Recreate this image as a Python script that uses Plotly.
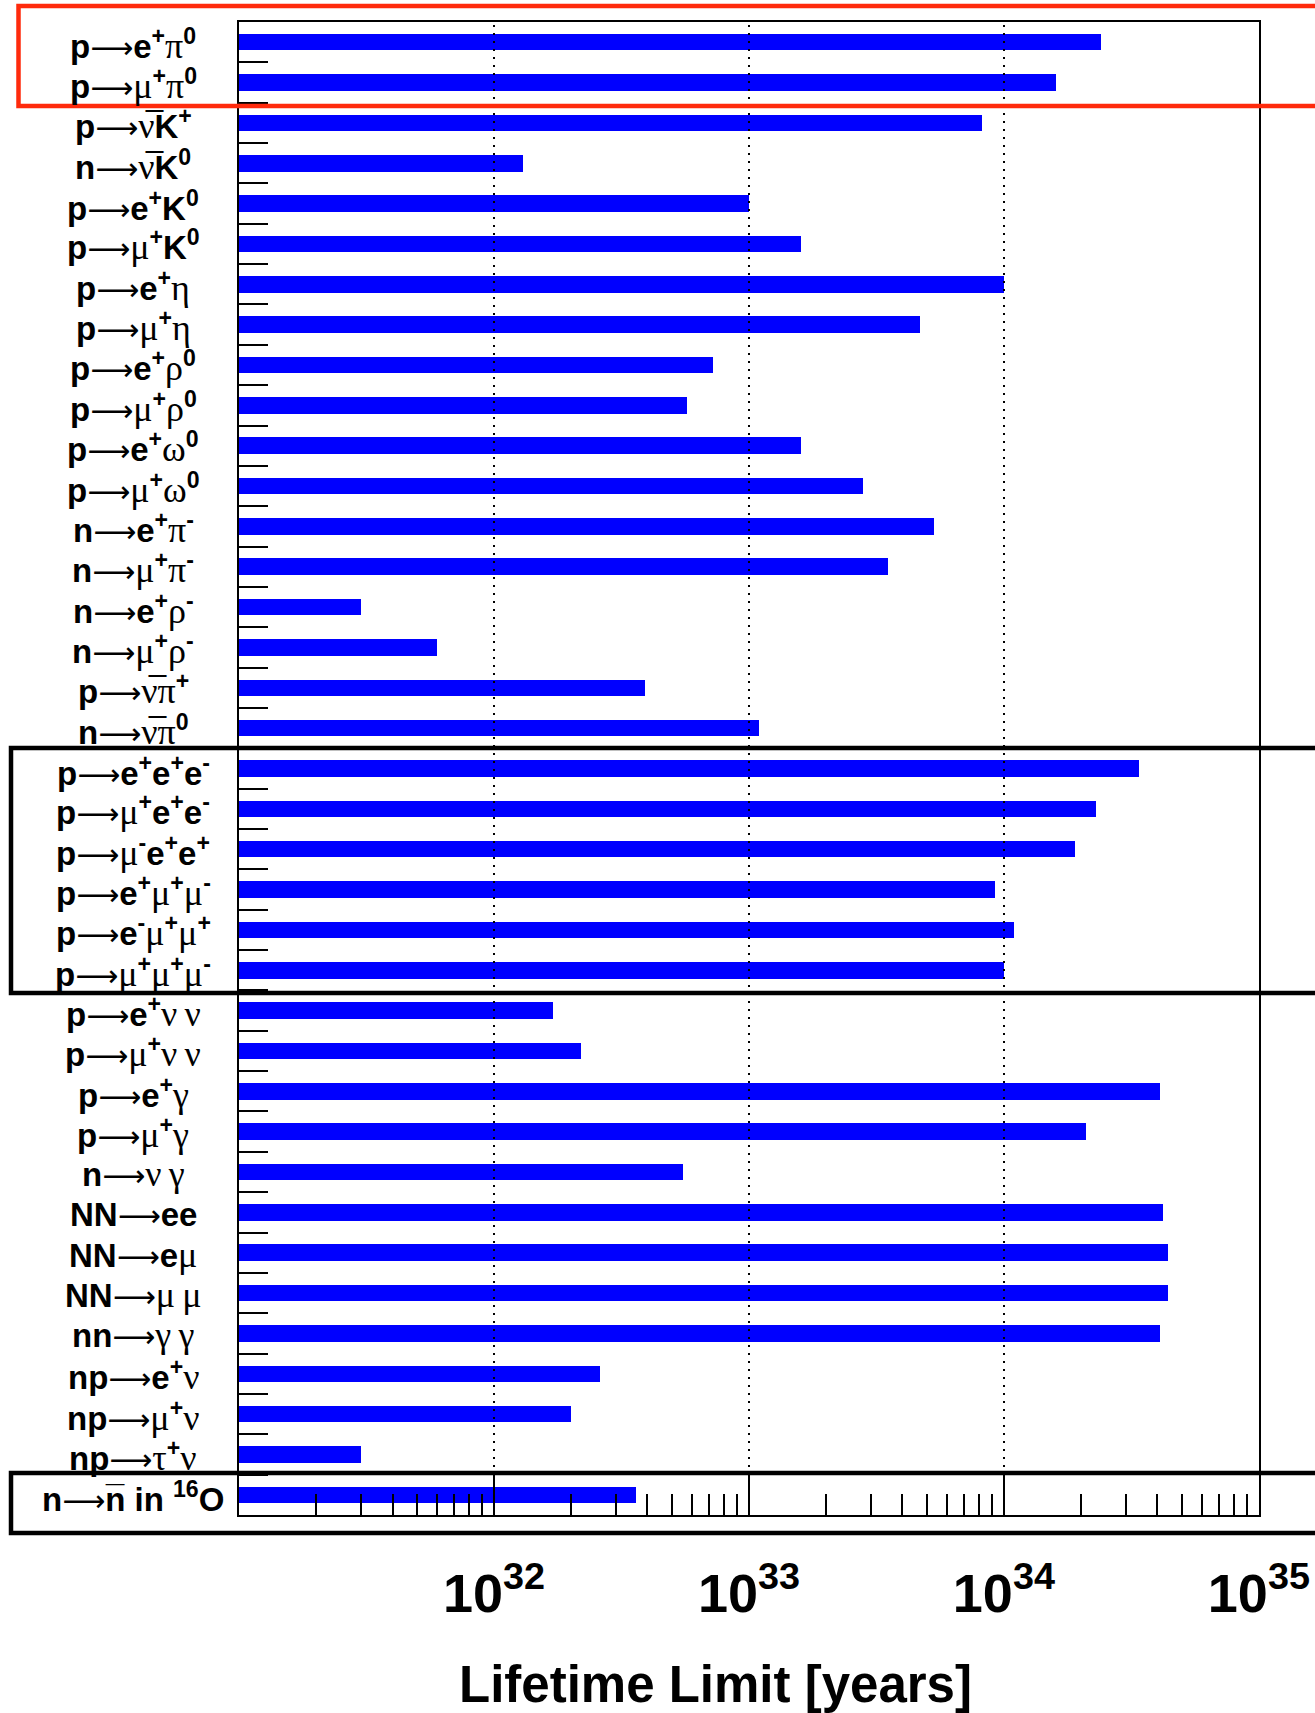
import math
import plotly.graph_objects as go

# ---------------- data ----------------
def b(s): return f"<b>{s}</b>"
def g(s): return f"<span style='font-family:Liberation Serif;font-size:36px'>{s}</span>"
def up(s): return f"<sup>{s}</sup>"
A = "<span style='font-family:DejaVu Sans;font-size:30px'>⟶</span>"
NUB = g("ν\u0305")

labels = [
    b("p")+A+b("e")+up(b("+"))+g("π")+up(b("0")),
    b("p")+A+g("μ")+up(b("+"))+g("π")+up(b("0")),
    b("p")+A+NUB+b("K")+up(b("+")),
    b("n")+A+NUB+b("K")+up(b("0")),
    b("p")+A+b("e")+up(b("+"))+b("K")+up(b("0")),
    b("p")+A+g("μ")+up(b("+"))+b("K")+up(b("0")),
    b("p")+A+b("e")+up(b("+"))+g("η"),
    b("p")+A+g("μ")+up(b("+"))+g("η"),
    b("p")+A+b("e")+up(b("+"))+g("ρ")+up(b("0")),
    b("p")+A+g("μ")+up(b("+"))+g("ρ")+up(b("0")),
    b("p")+A+b("e")+up(b("+"))+g("ω")+up(b("0")),
    b("p")+A+g("μ")+up(b("+"))+g("ω")+up(b("0")),
    b("n")+A+b("e")+up(b("+"))+g("π")+up(b("-")),
    b("n")+A+g("μ")+up(b("+"))+g("π")+up(b("-")),
    b("n")+A+b("e")+up(b("+"))+g("ρ")+up(b("-")),
    b("n")+A+g("μ")+up(b("+"))+g("ρ")+up(b("-")),
    b("p")+A+NUB+g("π")+up(b("+")),
    b("n")+A+NUB+g("π")+up(b("0")),
    b("p")+A+b("e")+up(b("+"))+b("e")+up(b("+"))+b("e")+up(b("-")),
    b("p")+A+g("μ")+up(b("+"))+b("e")+up(b("+"))+b("e")+up(b("-")),
    b("p")+A+g("μ")+up(b("-"))+b("e")+up(b("+"))+b("e")+up(b("+")),
    b("p")+A+b("e")+up(b("+"))+g("μ")+up(b("+"))+g("μ")+up(b("-")),
    b("p")+A+b("e")+up(b("-"))+g("μ")+up(b("+"))+g("μ")+up(b("+")),
    b("p")+A+g("μ")+up(b("+"))+g("μ")+up(b("+"))+g("μ")+up(b("-")),
    b("p")+A+b("e")+up(b("+"))+g("ν\u2009ν"),
    b("p")+A+g("μ")+up(b("+"))+g("ν\u2009ν"),
    b("p")+A+b("e")+up(b("+"))+g("γ"),
    b("p")+A+g("μ")+up(b("+"))+g("γ"),
    b("n")+A+g("ν\u2009γ"),
    b("NN")+A+b("ee"),
    b("NN")+A+b("e")+g("μ"),
    b("NN")+A+g("μ\u2009μ"),
    b("nn")+A+g("γ\u2009γ"),
    b("np")+A+b("e")+up(b("+"))+g("ν"),
    b("np")+A+g("μ")+up(b("+"))+g("ν"),
    b("np")+A+g("τ")+up(b("+"))+g("ν"),
    b("n")+A+b("n\u0305 in ")+up(b("16"))+b("O"),
]

lifetime_limits = [
    2.4e34, 1.6e34, 8.2e33, 1.3e32, 1.0e33, 1.6e33, 1.0e34, 4.7e33,
    7.2e32, 5.7e32, 1.6e33, 2.8e33, 5.3e33, 3.5e33, 3.0e31, 6.0e31,
    3.9e32, 1.1e33, 3.4e34, 2.3e34, 1.9e34, 9.2e33, 1.1e34, 1.0e34,
    1.7e32, 2.2e32, 4.1e34, 2.1e34, 5.5e32, 4.2e34, 4.4e34, 4.4e34,
    4.1e34, 2.6e32, 2.0e32, 3.0e31, 3.6e32,
]

x_tick_vals = [1e32, 1e33, 1e34, 1e35]
x_tick_text = ["10<sup>32</sup>", "10<sup>33</sup>", "10<sup>34</sup>", "10<sup>35</sup>"]
x_minor_vals = [float(m) * 10.0 ** e for e in range(31, 35) for m in range(2, 10)]
x_log_range = [31, 35]

rows = list(range(1, len(labels) + 1))

# ---------------- layout geometry ----------------
W, H = 1315, 1713
ML, MR, MT, MB = 239, 56, 22, 198
PW, PH = W - ML - MR, H - MT - MB

def px_x(px):
    return (px - ML) / PW

def px_y(py):
    return 1 - (py - MT) / PH

fig = go.Figure()
fig.add_trace(go.Bar(
    x=lifetime_limits, y=rows, orientation="h",
    width=0.41, marker=dict(color="#0000ff", line=dict(width=0)),
    hoverinfo="x",
))

# row labels (centered, ROOT style)
for r, lab in zip(rows, labels):
    fig.add_annotation(
        x=px_x(133), xref="paper", y=r, yref="y",
        text=lab, showarrow=False, xanchor="center", yanchor="middle",
        yshift=-2,
        font=dict(family="Liberation Sans, Arial, sans-serif", size=33, color="black"),
    )

# x title
fig.add_annotation(
    x=px_x(715), xref="paper", y=px_y(1684), yref="paper",
    text="Lifetime Limit [years]", showarrow=False,
    xanchor="center", yanchor="middle",
    font=dict(family="Liberation Sans, Arial", size=51, color="black", weight="bold"),
)

# dotted grid lines at decades (drawn above bars)
for v in x_tick_vals[:-1]:
    xp = (math.log10(v) - x_log_range[0]) / (x_log_range[1] - x_log_range[0])
    fig.add_shape(type="line", xref="paper", yref="paper", x0=xp, x1=xp, y0=0, y1=1,
                  line=dict(color="black", width=2, dash="2px,6px"), layer="above")

# highlight boxes
fig.add_shape(type="rect", xref="paper", yref="paper",
              x0=px_x(18.5), x1=px_x(1340), y0=px_y(106), y1=px_y(6),
              line=dict(color="#ff2a0c", width=4.5), layer="above")
fig.add_shape(type="rect", xref="paper", yref="paper",
              x0=px_x(11), x1=px_x(1340), y0=px_y(993), y1=px_y(748),
              line=dict(color="black", width=4.5), layer="above")
fig.add_shape(type="rect", xref="paper", yref="paper",
              x0=px_x(11), x1=px_x(1340), y0=px_y(1533), y1=px_y(1473),
              line=dict(color="black", width=4.5), layer="above")

fig.update_xaxes(
    type="log", range=[x_log_range[0], x_log_range[1] + 0.0005],
    tickmode="array", tickvals=x_tick_vals, ticktext=x_tick_text,
    ticks="inside", ticklen=42, tickwidth=1.5, tickcolor="black",
    minor=dict(tickmode="array", tickvals=x_minor_vals, ticks="inside",
               ticklen=21, tickwidth=1.5, tickcolor="black", showgrid=False),
    showgrid=False, zeroline=False,
    showline=True, mirror=True, linecolor="black", linewidth=2,
    tickfont=dict(family="Liberation Sans, Arial", size=54, color="black", weight="bold"),
    ticklabelstandoff=30,
    layer="above traces",
)
fig.update_yaxes(
    range=[len(labels) + 0.5, 0.5], tickmode="array",
    tickvals=[r + 0.5 for r in rows[:-1]],
    showticklabels=False, ticks="inside", ticklen=29, tickwidth=1.5, tickcolor="black",
    showgrid=False, zeroline=False,
    showline=True, mirror=True, linecolor="black", linewidth=2,
    layer="above traces",
)
fig.update_layout(
    width=W, height=H,
    margin=dict(l=ML, r=MR, t=MT, b=MB, autoexpand=False),
    paper_bgcolor="white", plot_bgcolor="white",
    showlegend=False, bargap=0,
)
fig.write_html("out.html", config={"displayModeBar": False},
               post_script="document.body.style.margin='0';")
